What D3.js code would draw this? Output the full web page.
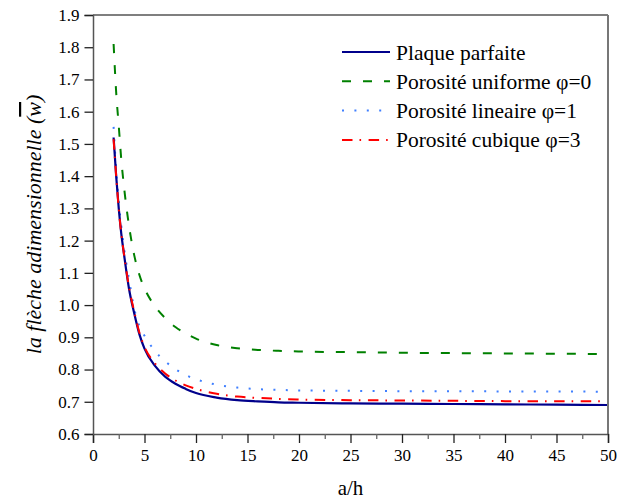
<!DOCTYPE html>
<html>
<head>
<meta charset="utf-8">
<script src="https://cdn.jsdelivr.net/npm/d3@7"></script>
<style>
  html, body { margin: 0; padding: 0; background: #fff; }
  svg { display: block; }
  svg text { font-family: 'Liberation Serif', 'Times New Roman', Times, serif !important; fill: #000; }
</style>
</head>
<body>
<svg id="chart" width="617" height="500" font-family="Liberation Serif"></svg>
<script>
// ---- data ----
const xValues = [2, 2.25, 2.5, 2.75, 3, 3.5, 4, 4.5, 5, 6, 7, 8, 9, 10, 12, 14, 16, 18, 20, 25, 30, 35, 40, 45, 50];
const plaqueParfaite = [1.52, 1.40, 1.30, 1.22, 1.16, 1.05, 0.975, 0.91, 0.865, 0.812, 0.778, 0.756, 0.740, 0.727, 0.713, 0.705, 0.701, 0.698, 0.697, 0.695, 0.694, 0.693, 0.692, 0.691, 0.690];
const porositeUniforme = [1.81, 1.66, 1.556, 1.45, 1.37, 1.245, 1.155, 1.094, 1.052, 0.997, 0.960, 0.932, 0.912, 0.896, 0.876, 0.866, 0.861, 0.858, 0.856, 0.854, 0.852, 0.851, 0.850, 0.849, 0.848];
const porositeLineaire = [1.553, 1.42, 1.32, 1.245, 1.18, 1.08, 0.99, 0.935, 0.905, 0.858, 0.826, 0.801, 0.783, 0.770, 0.753, 0.744, 0.739, 0.737, 0.735, 0.734, 0.733, 0.733, 0.732, 0.732, 0.731];
const porositeCubique = [1.515, 1.40, 1.30, 1.22, 1.16, 1.055, 0.98, 0.915, 0.87, 0.82, 0.788, 0.766, 0.751, 0.740, 0.725, 0.716, 0.712, 0.709, 0.707, 0.705, 0.704, 0.703, 0.702, 0.702, 0.701];
const seriesNames = ["Plaque parfaite", "Porosité uniforme φ=0", "Porosité lineaire φ=1", "Porosité cubique φ=3"];
const xTicks = [0, 5, 10, 15, 20, 25, 30, 35, 40, 45, 50];
const xMinorTicks = [2.5, 7.5, 12.5, 17.5, 22.5, 27.5, 32.5, 37.5, 42.5, 47.5];
const yTicks = [0.6, 0.7, 0.8, 0.9, 1.0, 1.1, 1.2, 1.3, 1.4, 1.5, 1.6, 1.7, 1.8, 1.9];

// ---- styles ----
const styles = [
  { color: "#00008B", width: 2.2, dash: null },
  { color: "#008000", width: 2, dash: "9,12" },
  { color: "#3F7FFF", width: 2, dash: "2,10.4" },
  { color: "#FF0000", width: 2, dash: "10.5,7,1.6,7.5" }
];
const FONT = "Liberation Serif";

const svg = d3.select("#chart");
const L = 93, R = 608, T = 15, B = 434;
const x = d3.scaleLinear().domain([0, 50]).range([L, R]);
const y = d3.scaleLinear().domain([0.6, 1.9]).range([B, T]);

// series lines
const allSeries = [plaqueParfaite, porositeUniforme, porositeLineaire, porositeCubique];
const line = d3.line().x(d => x(d[0])).y(d => y(d[1])).curve(d3.curveMonotoneX);
const gLines = svg.append("g");
const drawOrder = [1, 2, 0, 3];
drawOrder.forEach(i => {
  const pts = xValues.map((xv, k) => [xv, allSeries[i][k]]);
  gLines.append("path")
    .attr("d", line(pts))
    .attr("fill", "none")
    .attr("stroke", styles[i].color)
    .attr("stroke-width", styles[i].width)
    .attr("stroke-dasharray", styles[i].dash)
    .attr("stroke-linejoin", "round");
});

// frame (top and right)
svg.append("line").attr("x1", L).attr("x2", R).attr("y1", T).attr("y2", T)
  .attr("stroke", "#555").attr("stroke-width", 1.5);
svg.append("line").attr("x1", R).attr("x2", R).attr("y1", T).attr("y2", B)
  .attr("stroke", "#777").attr("stroke-width", 2);

// x axis
const xAxis = d3.axisBottom(x).tickValues(xTicks).tickSize(9).tickPadding(6).tickFormat(d3.format("d"));
const gx = svg.append("g").attr("transform", `translate(0,${B})`).call(xAxis);
gx.attr("font-family", FONT).attr("font-size", 17);
gx.select(".domain").attr("stroke", "#555").attr("stroke-width", 1.5);
gx.selectAll(".tick line").attr("stroke", "#222").attr("stroke-width", 1.3);
gx.selectAll(".tick text").attr("font-family", FONT).attr("font-size", 17);
const xMinor = d3.axisBottom(x).tickValues(xMinorTicks).tickSize(5).tickFormat("");
const gxm = svg.append("g").attr("transform", `translate(0,${B})`).call(xMinor);
gxm.select(".domain").remove();
gxm.selectAll(".tick line").attr("stroke", "#666").attr("stroke-width", 1.3);

// y axis
const yAxis = d3.axisLeft(y).tickValues(yTicks).tickSize(8.5).tickPadding(5).tickFormat(d3.format(".1f"));
const gy = svg.append("g").attr("transform", `translate(${L},0)`).call(yAxis);
gy.attr("font-family", FONT).attr("font-size", 17);
gy.select(".domain").attr("stroke", "#555").attr("stroke-width", 1.5);
gy.selectAll(".tick line").attr("stroke", "#222").attr("stroke-width", 1.3);
gy.selectAll(".tick text").attr("font-family", FONT).attr("font-size", 17);

// axis titles
svg.append("text").attr("x", (L + R) / 2).attr("y", 495).attr("text-anchor", "middle")
  .attr("font-family", FONT).attr("font-size", 21).text("a/h");
const yl = svg.append("text")
  .attr("transform", `translate(41,${(T + B) / 2}) rotate(-90)`)
  .attr("text-anchor", "middle").attr("font-family", FONT)
  .attr("font-size", 22).attr("font-style", "italic");
yl.append("tspan").text("la flèche adimensionnelle (");
yl.append("tspan").attr("text-decoration", "overline").text("w");
yl.append("tspan").text(")");

// legend
const legX1 = 342, legX2 = 390, legTextX = 396, legY0 = 52, legDy = 29.3;
seriesNames.forEach((name, i) => {
  const yy = legY0 + i * legDy;
  svg.append("line").attr("x1", legX1).attr("x2", legX2).attr("y1", yy).attr("y2", yy)
    .attr("stroke", styles[i].color).attr("stroke-width", styles[i].width)
    .attr("stroke-dasharray", styles[i].dash);
  svg.append("text").attr("x", legTextX).attr("y", yy).attr("dy", "0.35em")
    .attr("font-family", FONT).attr("font-size", 21.5).text(name);
});
</script>
</body>
</html>
